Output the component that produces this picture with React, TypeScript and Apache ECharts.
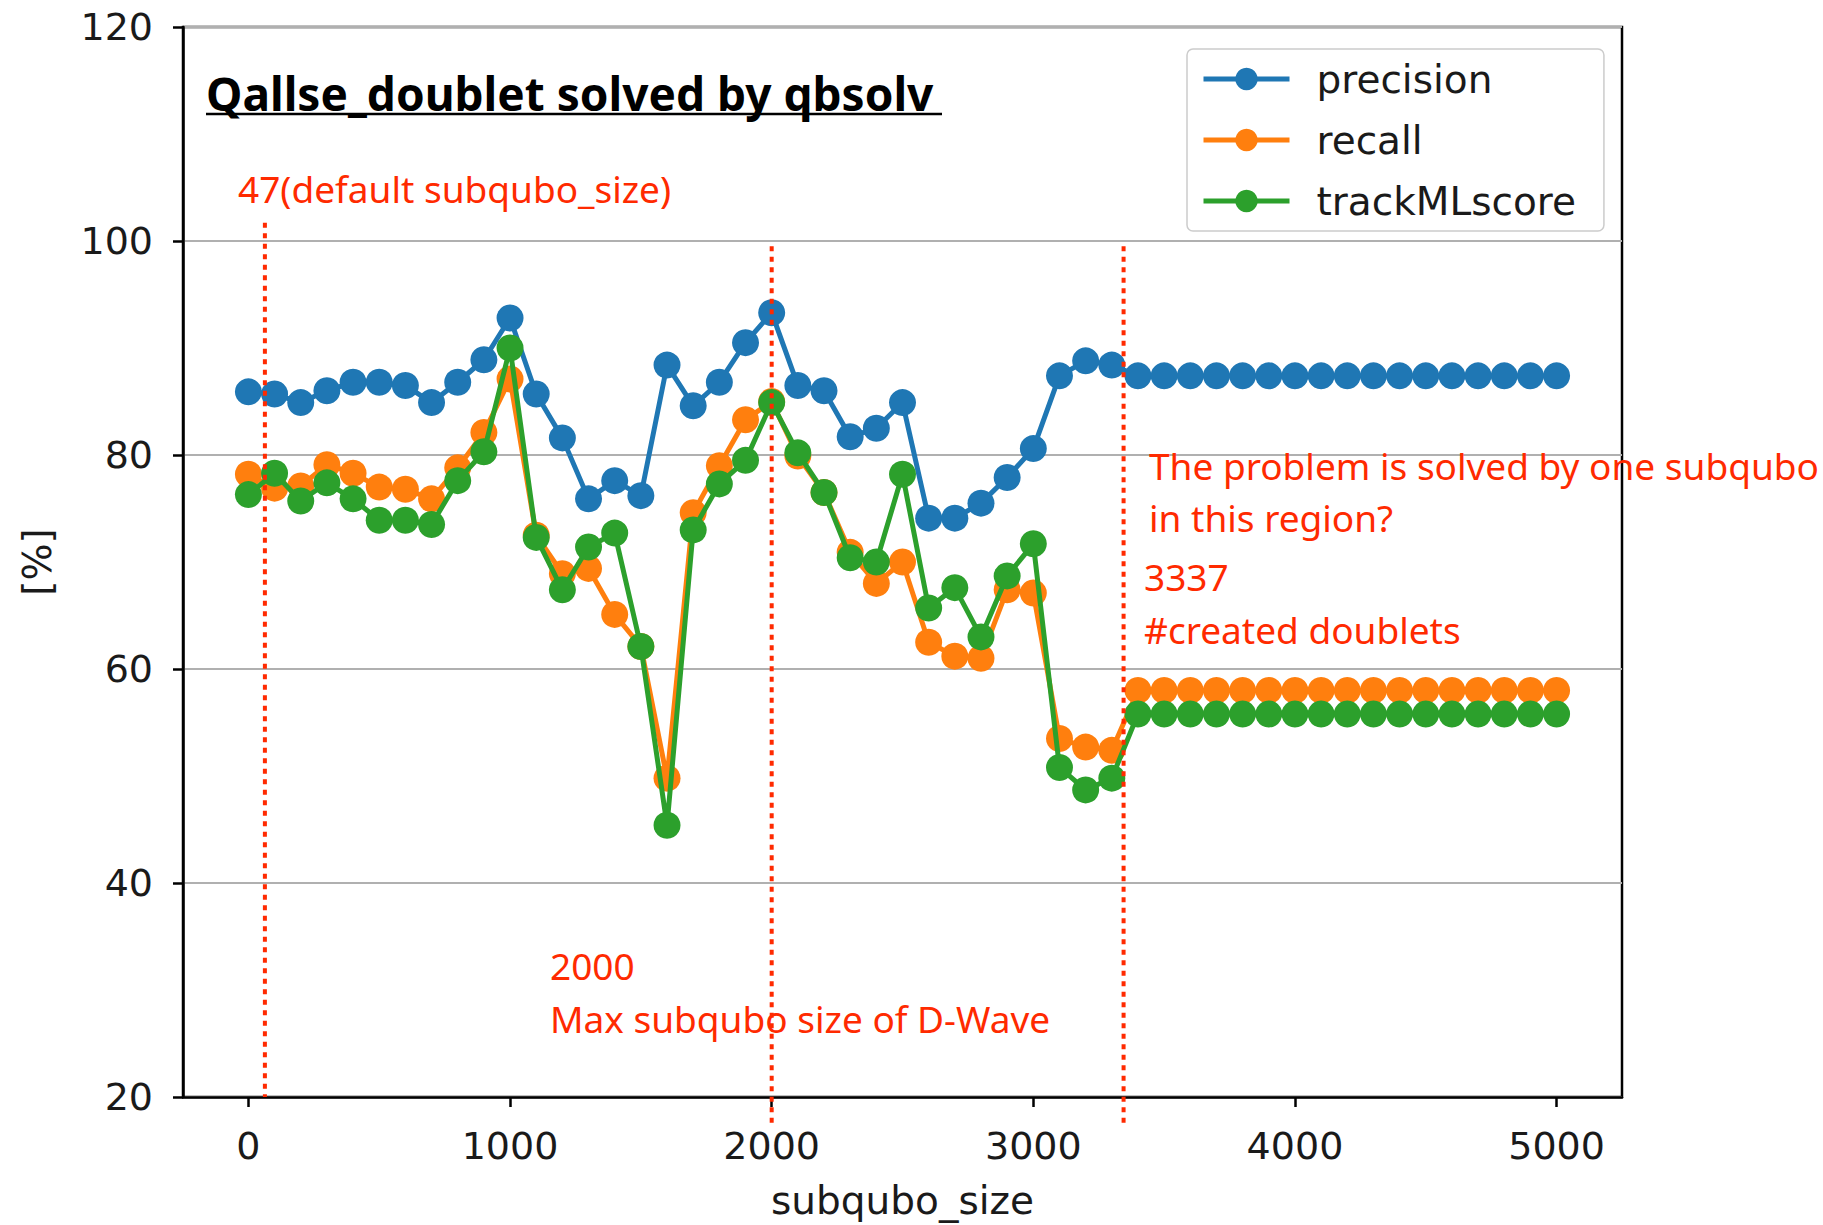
import React, { useEffect, useRef } from "react";
import * as echarts from "echarts";

const sizes = [
  0, 100, 200, 300, 400, 500, 600, 700, 800, 900, 1000, 1100, 1200, 1300, 1400, 1500, 1600,
  1700, 1800, 1900, 2000, 2100, 2200, 2300, 2400, 2500, 2600, 2700, 2800, 2900, 3000, 3100,
  3200, 3300, 3400, 3500, 3600, 3700, 3800, 3900, 4000, 4100, 4200, 4300, 4400, 4500, 4600,
  4700, 4800, 4900, 5000,
];
const precision = [
  85.9, 85.7, 84.9, 86.0, 86.8, 86.8, 86.5, 84.9, 86.8, 88.9, 92.8, 85.7, 81.6, 75.9, 77.6, 76.2,
  88.4, 84.6, 86.8, 90.5, 93.3, 86.5, 86.0, 81.7, 82.5, 84.9, 74.1, 74.1, 75.5, 77.9, 80.6, 87.4,
  88.8, 88.4, 87.4, 87.4, 87.4, 87.4, 87.4, 87.4, 87.4, 87.4, 87.4, 87.4, 87.4, 87.4, 87.4, 87.4,
  87.4, 87.4, 87.4,
];
const recall = [
  78.2, 76.9, 77.1, 79.1, 78.3, 77.0, 76.8, 75.9, 78.8, 82.1, 87.1, 72.5, 68.9, 69.4, 65.1, 62.1,
  49.8, 74.6, 79.0, 83.3, 85.0, 79.9, 76.5, 70.9, 68.0, 70.0, 62.5, 61.2, 61.0, 67.4, 67.1, 53.5,
  52.7, 52.4, 58.0, 58.0, 58.0, 58.0, 58.0, 58.0, 58.0, 58.0, 58.0, 58.0, 58.0, 58.0, 58.0, 58.0,
  58.0, 58.0, 58.0,
];
const trackMLscore = [
  76.3, 78.3, 75.7, 77.4, 75.9, 73.9, 73.9, 73.5, 77.6, 80.3, 90.0, 72.3, 67.4, 71.4, 72.7, 62.1,
  45.4, 73.0, 77.3, 79.5, 84.9, 80.2, 76.5, 70.4, 70.0, 78.2, 65.7, 67.6, 63.0, 68.7, 71.7, 50.8,
  48.7, 49.8, 55.8, 55.8, 55.8, 55.8, 55.8, 55.8, 55.8, 55.8, 55.8, 55.8, 55.8, 55.8, 55.8, 55.8,
  55.8, 55.8, 55.8,
];
const seriesNames = ["precision", "recall", "trackMLscore"];
const seriesValues = [precision, recall, trackMLscore];
const seriesColors = ["#1f77b4", "#ff7f0e", "#2ca02c"];
const xTicks = [0, 1000, 2000, 3000, 4000, 5000];

// vertical dotted annotation lines (as drawn): x value, top value, bottom value
const vLineX = [63, 2000, 3345];
const vLineTop = [101.7, 99.5, 99.5];
const vLineBottom = [20, 17.4, 17.4];

const titleText = "Qallse_doublet solved by qbsolv";
const noteTexts = [
  "47(default subqubo_size)",
  "The problem is solved by one subqubo",
  "in this region?",
  "3337",
  "#created doublets",
  "2000",
  "Max subqubo size of D-Wave",
];
const notePos = [
  [238, 188],
  [1149, 465],
  [1149, 517],
  [1144, 576],
  [1144, 629],
  [550, 965],
  [550, 1018],
];

const RED = "#ff2a00";
const TICK_FONT = "DejaVu Sans";
const NOTE_FONT = "Noto Sans";

export default function App() {
  const ref = useRef<HTMLDivElement>(null);
  useEffect(() => {
    if (!ref.current) return;
    const chart = echarts.init(ref.current, null, { renderer: "svg" });
    const option: any = {
      animation: false,
      backgroundColor: "#ffffff",
      grid: {
        left: 183,
        top: 27,
        width: 1439,
        height: 1073,
        show: true,
        borderColor: "#000000",
        borderWidth: 2.5,
        backgroundColor: "transparent",
      },
      legend: {
        show: true,
        orient: "vertical",
        left: 1187,
        top: 49,
        data: seriesNames,
        itemWidth: 86,
        itemHeight: 28,
        itemGap: 21,
        padding: [10, 28, 10, 14],
        backgroundColor: "rgba(255,255,255,0.85)",
        borderColor: "#cccccc",
        borderWidth: 1.5,
        borderRadius: 6,
        lineStyle: { width: 5 },
        textStyle: {
          fontFamily: TICK_FONT,
          fontSize: 39,
          color: "#1a1a1a",
          lineHeight: 40,
          padding: [0, 0, 0, 22],
        },
      },
      xAxis: {
        type: "value",
        min: -250,
        max: 5250,
        name: "subqubo_size",
        nameLocation: "middle",
        nameGap: 84,
        nameTextStyle: { fontFamily: TICK_FONT, fontSize: 39, color: "#1a1a1a" },
        axisLine: { show: true, onZero: false, lineStyle: { color: "#000", width: 2.5 } },
        axisTick: {
          show: true,
          length: 10,
          customValues: xTicks,
          lineStyle: { color: "#000", width: 2.5 },
        },
        axisLabel: {
          customValues: xTicks,
          margin: 30,
          fontFamily: TICK_FONT,
          fontSize: 38,
          color: "#1a1a1a",
          formatter: (v: number) => String(v),
        },
        splitLine: { show: false },
      },
      yAxis: {
        type: "value",
        min: 20,
        max: 120,
        interval: 20,
        name: "[%]",
        nameLocation: "middle",
        nameGap: 126,
        nameTextStyle: { fontFamily: TICK_FONT, fontSize: 39, color: "#1a1a1a" },
        axisLine: { show: true, onZero: false, lineStyle: { color: "#000", width: 2.5 } },
        axisTick: { show: true, length: 10, lineStyle: { color: "#000", width: 2.5 } },
        axisLabel: { margin: 30, fontFamily: TICK_FONT, fontSize: 38, color: "#1a1a1a" },
        splitLine: { show: true, lineStyle: { color: "#b0b0b0", width: 2 } },
      },
      series: seriesNames.map((name, i) => ({
        name,
        type: "line",
        data: sizes.map((s, j) => [s, seriesValues[i][j]]),
        symbol: "circle",
        symbolSize: 27,
        showAllSymbol: true,
        color: seriesColors[i],
        lineStyle: { width: 5, color: seriesColors[i] },
        itemStyle: { color: seriesColors[i] },
        z: 2 + i,
      })),
    };
    chart.setOption(option);

    const graphics: any[] = [];
    vLineX.forEach((x, i) => {
      const p1 = chart.convertToPixel({ gridIndex: 0 }, [x, vLineTop[i]]) as number[];
      const p2 = chart.convertToPixel({ gridIndex: 0 }, [x, vLineBottom[i]]) as number[];
      graphics.push({
        type: "line",
        z: 50,
        shape: { x1: p1[0], y1: p1[1], x2: p2[0], y2: p2[1] },
        style: { stroke: RED, lineWidth: 4, lineDash: [5, 5.5] },
      });
    });
    graphics.push({
      type: "text",
      z: 60,
      x: 206,
      y: 93,
      style: {
        text: titleText,
        fill: "#000",
        fontFamily: NOTE_FONT,
        fontSize: 46,
        fontWeight: "bold",
        align: "left",
        verticalAlign: "middle",
      },
    });
    graphics.push({
      type: "line",
      z: 60,
      shape: { x1: 206, y1: 114, x2: 942, y2: 114 },
      style: { stroke: "#000", lineWidth: 2.5 },
    });
    noteTexts.forEach((t, i) => {
      graphics.push({
        type: "text",
        z: 60,
        x: notePos[i][0],
        y: notePos[i][1],
        style: {
          text: t,
          fill: RED,
          fontFamily: NOTE_FONT,
          fontSize: 37,
          align: "left",
          verticalAlign: "middle",
        },
      });
    });
    chart.setOption({ graphic: graphics });

    return () => chart.dispose();
  }, []);
  return (
    <div
      ref={ref}
      style={{ position: "fixed", left: 0, top: 0, width: 1823, height: 1225, background: "#fff" }}
    />
  );
}
